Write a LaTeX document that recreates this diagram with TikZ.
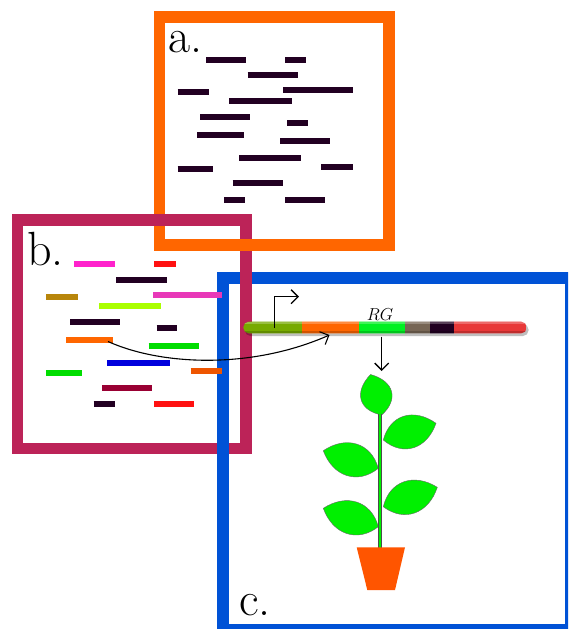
\documentclass[tikz,border=0pt]{standalone}
\usetikzlibrary{arrows.meta,calc}

% frame colours
\definecolor{frameA}{HTML}{FF6600}
\definecolor{frameB}{HTML}{BC2358}
\definecolor{frameC}{HTML}{0052D6}
% read colours
\definecolor{rdDark}{HTML}{220022}
\definecolor{rdPink}{HTML}{FF22CC}
\definecolor{rdRed}{HTML}{FF1111}
\definecolor{rdGold}{HTML}{B8860B}
\definecolor{rdRose}{HTML}{E838B8}
\definecolor{rdLime}{HTML}{AAFF00}
\definecolor{rdOrange}{HTML}{FF6600}
\definecolor{rdGreen}{HTML}{00DD00}
\definecolor{rdBlue}{HTML}{0000DD}
\definecolor{rdOrangeB}{HTML}{EE5500}
\definecolor{rdMaroon}{HTML}{990033}
% gene segment colours
\definecolor{gOlive}{HTML}{77AA00}
\definecolor{gOrange}{HTML}{FF6600}
\definecolor{gGreen}{HTML}{00F022}
\definecolor{gGrey}{HTML}{776655}
\definecolor{gDark}{HTML}{220022}
\definecolor{gRed}{HTML}{E83838}
% plant colours
\definecolor{leafGreen}{HTML}{00F000}
\definecolor{potOrange}{HTML}{FF5500}

% a short sequencing read: colour, x1, x2, y
\newcommand\seqread[4]{\draw[readbar, #1] (#2,#4) -- (#3,#4);}
% a pointed leaf from base #1 to tip #2, side control offset #3
\newcommand\drawleaf[3]{%
  \draw[leaf] (#1)
    .. controls ($(#1)!0.25!(#2)!#3!90:(#2)$) and ($(#1)!0.7!(#2)!#3!90:(#2)$) .. (#2)
    .. controls ($(#1)!0.7!(#2)!#3!-90:(#2)$) and ($(#1)!0.25!(#2)!#3!-90:(#2)$) .. (#1);}

\begin{document}
\begin{tikzpicture}[x=1pt, y=-1pt,
  framebox/.style={line width=11.5pt, line join=miter},
  readbar/.style={line width=6pt, line cap=butt},
  panellabel/.style={anchor=base west, inner sep=0pt, font=\fontsize{48}{48}\selectfont},
  genelabel/.style={inner sep=0pt, font=\fontsize{17}{17}\selectfont},
  thinarrow/.style={line width=1.3pt, -{Straight Barb[length=7pt, width=14pt]}},
  leaf/.style={fill=leafGreen, draw=black!60, line width=0.4pt}]

\useasboundingbox (0,0) rectangle (568,629);
\clip (0,0) rectangle (568,629);
\fill[white] (0,0) rectangle (568,629);

% ---- frames, interlocked ----
\draw[framebox, frameA] (159.5,17.2) rectangle (389,245);
\draw[framebox, frameB] (17.5,220) rectangle (246,448.5);
\draw[frameA, line width=11.5pt] (238,245) -- (256,245);
\draw[framebox, frameC] (223,278) rectangle (571,629.5);
\draw[frameB, line width=11.5pt] (246,268) -- (246,290);

% ---- panel labels ----
\node[panellabel] (la) at (168,52) {a.};
\node[panellabel] (lb) at (27,265) {b.};
\node[panellabel] (lc) at (239,615) {c.};

% ---- panel a: reads ----
\seqread{rdDark}{206}{246}{59.5}
\seqread{rdDark}{285.3}{306.3}{59.5}
\seqread{rdDark}{247.7}{297.7}{74.7}
\seqread{rdDark}{177.7}{209.3}{91.7}
\seqread{rdDark}{283.3}{353.3}{89.7}
\seqread{rdDark}{229.3}{291.7}{100.7}
\seqread{rdDark}{200.3}{250.3}{117}
\seqread{rdDark}{287}{308.3}{123}
\seqread{rdDark}{197.3}{243.7}{135.3}
\seqread{rdDark}{280}{330}{141.3}
\seqread{rdDark}{239}{301}{158}
\seqread{rdDark}{177.7}{213.3}{168.7}
\seqread{rdDark}{321.3}{353.3}{166.7}
\seqread{rdDark}{232.7}{283.3}{183.3}
\seqread{rdDark}{224}{245.3}{199.7}
\seqread{rdDark}{285.3}{324.7}{199.7}

% ---- panel b: coloured reads ----
\seqread{rdPink}{74}{114.7}{264}
\seqread{rdRed}{154}{175.7}{264}
\seqread{rdDark}{116.3}{166.7}{280.2}
\seqread{rdGold}{46}{78.3}{297}
\seqread{rdRose}{153}{222}{295.3}
\seqread{rdLime}{99}{161}{305.7}
\seqread{rdDark}{70}{119.7}{322.3}
\seqread{rdDark}{156.7}{177.3}{328.3}
\seqread{rdOrange}{66.3}{113}{340.3}
\seqread{rdGreen}{148.7}{199}{346}
\seqread{rdBlue}{107.3}{169.7}{362.7}
\seqread{rdGreen}{46}{82.3}{373.3}
\seqread{rdOrangeB}{190.7}{222}{371.3}
\seqread{rdMaroon}{102.3}{152.3}{388.3}
\seqread{rdDark}{93.7}{114.7}{404.3}
\seqread{rdRed}{154}{194}{404.3}

% ---- panel c: gene construct ----
\fill[black, opacity=0.25, rounded corners=5.5pt] (245,324) rectangle (528.5,336);
\begin{scope}
  \clip[rounded corners=5.5pt] (243.3,321.7) rectangle (526.7,333.3);
  \fill[gOlive]  (243,321) rectangle (301.7,334);
  \fill[gOrange] (301.7,321) rectangle (359.3,334);
  \fill[gGreen]  (359.3,321) rectangle (405,334);
  \fill[gGrey]   (405,321) rectangle (430,334);
  \fill[gDark]   (430,321) rectangle (454,334);
  \fill[gRed]    (454,321) rectangle (527,334);
  \fill[white, opacity=0.25] (243,321.7) rectangle (527,323.5);
  \fill[black, opacity=0.18] (243,330.5) rectangle (527,333.3);
\end{scope}
\coordinate (gene) at (329.5,335);
\coordinate (tss) at (274.3,328);
\coordinate (tssend) at (299,296.7);
\coordinate (rgout) at (381.7,336.5);
\coordinate (plantTop) at (381.7,371);
\node[genelabel] (rg) at (380,314.5) {$RG$};

% promoter arrow
\draw[thinarrow] (tss) |- (tssend);

% read mapped onto the gene
\coordinate (readend) at (108,341.5);
\draw[thinarrow, line width=1.1pt] (readend) .. controls (160,365) and (250,370) .. (gene);

% expression arrow
\draw[thinarrow] (rgout) -- (plantTop);

% ---- plant ----
\coordinate (b0) at (381.7,415);   \coordinate (t0) at (370.5,374.5);
\coordinate (b1) at (383.3,440);   \coordinate (t1) at (436,423.3);
\coordinate (b2) at (378.3,468.3); \coordinate (t2) at (323.3,450.7);
\coordinate (b3) at (383.3,506.7); \coordinate (t3) at (437.3,487.3);
\coordinate (b4) at (378.3,526.7); \coordinate (t4) at (323.3,508.3);
\drawleaf{b0}{t0}{21pt}
\drawleaf{b1}{t1}{22pt}
\drawleaf{b2}{t2}{22pt}
\drawleaf{b3}{t3}{22pt}
\drawleaf{b4}{t4}{22pt}
% stem
\draw[black!70, line width=4pt] (380,414) -- (380,548);
\draw[leafGreen, line width=2pt] (380,414) -- (380,548);
% pot
\fill[potOrange] (356.7,547.3) -- (405,547.3) -- (395,590) -- (367.3,590) -- cycle;

\end{tikzpicture}
\end{document}
